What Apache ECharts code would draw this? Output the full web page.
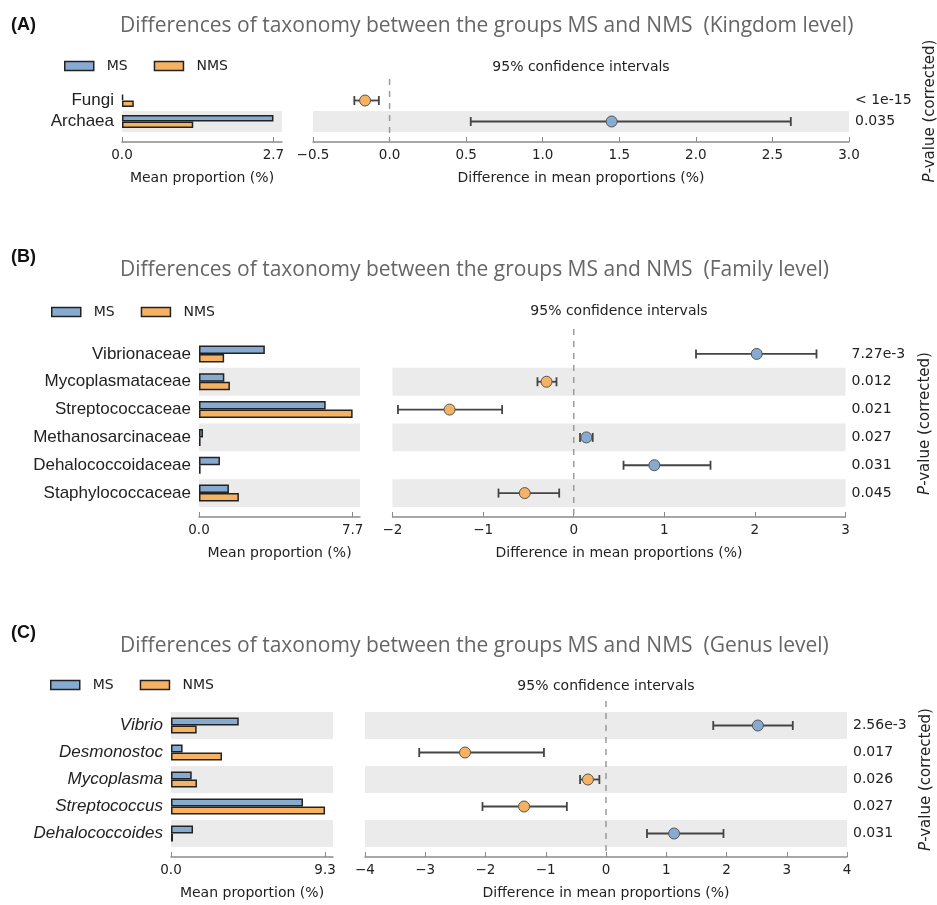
<!DOCTYPE html>
<html>
<head>
<meta charset="utf-8">
<script src="https://cdn.jsdelivr.net/npm/echarts@6/dist/echarts.min.js"></script>
<style>html,body{margin:0;padding:0;background:#fff}#chart{width:937px;height:905px}</style>
</head>
<body>
<div id="chart"></div>
<script>
// ---------- data ----------
const catsA = ['Fungi', 'Archaea'];
const msA = [0.02, 2.7];
const nmsA = [0.21, 1.27];
const diffA = [-0.16, 1.45];
const lowA = [-0.23, 0.53];
const highA = [-0.07, 2.62];
const pA = ['< 1e-15', '0.035'];
const barTicksA = [0.0, 2.7];

const catsB = ['Vibrionaceae', 'Mycoplasmataceae', 'Streptococcaceae', 'Methanosarcinaceae', 'Dehalococcoidaceae', 'Staphylococcaceae'];
const msB = [3.3, 1.27, 6.35, 0.2, 1.05, 1.5];
const nmsB = [1.26, 1.55, 7.7, 0.08, 0.08, 2.0];
const diffB = [2.02, -0.3, -1.37, 0.14, 0.89, -0.54];
const lowB = [1.35, -0.4, -1.94, 0.07, 0.55, -0.83];
const highB = [2.68, -0.19, -0.79, 0.21, 1.51, -0.16];
const pB = ['7.27e-3', '0.012', '0.021', '0.027', '0.031', '0.045'];
const barTicksB = [0.0, 7.7];

const catsC = ['Vibrio', 'Desmonostoc', 'Mycoplasma', 'Streptococcus', 'Dehalococcoides'];
const msC = [4.09, 0.7, 1.25, 7.97, 1.33];
const nmsC = [1.55, 3.08, 1.57, 9.3, 0.12];
const diffC = [2.52, -2.34, -0.3, -1.36, 1.13];
const lowC = [1.78, -3.1, -0.43, -2.05, 0.68];
const highC = [3.1, -1.03, -0.11, -0.65, 1.95];
const pC = ['2.56e-3', '0.017', '0.026', '0.027', '0.031'];
const barTicksC = [0.0, 9.3];

const groups = ['MS', 'NMS'];
const titles = [
  'Differences of taxonomy between the groups MS and NMS  (Kingdom level)',
  'Differences of taxonomy between the groups MS and NMS  (Family level)',
  'Differences of taxonomy between the groups MS and NMS  (Genus level)'
];
const panelLabels = ['(A)', '(B)', '(C)'];

// ---------- styles ----------
const BLUE = '#87aad0', ORANGE = '#f5b262', BAND = '#ebebeb', AX = '#8a8a8a';
const SMALL = 'DejaVu Sans', CAT = 'Liberation Sans';
const minus = s => s.replace('-', '\u2212');

const panels = [
  { cats: catsA, ms: msA, nms: nmsA, diff: diffA, low: lowA, high: highA, p: pA, ticks: barTicksA,
    barGrid: { left: 122, top: 90, width: 160, height: 42 }, barMax: 2.852, barW: 6.5,
    ciGrid: { left: 313, top: 90, width: 536, height: 42 }, ciMin: -0.5, ciMax: 3.0, ciInt: 0.5, ciDec: 1,
    bands: ['rgba(0,0,0,0)', BAND], italic: false,
    labelY: 25, legendTop: 59, legendLeft: 64, ciTitleY: 67 },
  { cats: catsB, ms: msB, nms: nmsB, diff: diffB, low: lowB, high: highB, p: pB, ticks: barTicksB,
    barGrid: { left: 199, top: 340, width: 161, height: 167 }, barMax: 8.07, barW: 8.5,
    ciGrid: { left: 392.5, top: 340, width: 453, height: 167 }, ciMin: -2, ciMax: 3, ciInt: 1, ciDec: 0,
    bands: ['rgba(0,0,0,0)', BAND], italic: false,
    labelY: 257, legendTop: 305, legendLeft: 51, ciTitleY: 311 },
  { cats: catsC, ms: msC, nms: nmsC, diff: diffC, low: lowC, high: highC, p: pC, ticks: barTicksC,
    barGrid: { left: 171, top: 712, width: 162, height: 135 }, barMax: 9.78, barW: 8,
    ciGrid: { left: 365, top: 712, width: 482, height: 135 }, ciMin: -4, ciMax: 4, ciInt: 1, ciDec: 0,
    bands: [BAND, 'rgba(0,0,0,0)'], italic: true,
    labelY: 633, legendTop: 678, legendLeft: 50, ciTitleY: 686 }
];
const titleY = [26, 270, 646];

const grid = [], xAxis = [], yAxis = [], series = [], legend = [], graphic = [];

function ciRender(params, api) {
  const y = api.value(2);
  const lo = api.coord([api.value(0), y]);
  const hi = api.coord([api.value(1), y]);
  const cap = 4.5;
  const st = { stroke: '#444', lineWidth: 1.8 };
  return { type: 'group', children: [
    { type: 'line', shape: { x1: lo[0], y1: lo[1], x2: hi[0], y2: hi[1] }, style: st },
    { type: 'line', shape: { x1: lo[0], y1: lo[1] - cap, x2: lo[0], y2: lo[1] + cap }, style: st },
    { type: 'line', shape: { x1: hi[0], y1: hi[1] - cap, x2: hi[0], y2: hi[1] + cap }, style: st }
  ]};
}
function zeroRender(params, api) {
  const cs = params.coordSys;
  const x = api.coord([api.value(0), 0])[0];
  return { type: 'line', shape: { x1: x, y1: cs.y - 11, x2: x, y2: cs.y + cs.height + 10 },
    style: { stroke: '#9a9a9a', lineWidth: 1.5, lineDash: [6, 6] } };
}

panels.forEach((P, k) => {
  const gb = 2 * k, gc = 2 * k + 1;
  grid.push(Object.assign({ outerBoundsMode: 'none', containLabel: false }, P.barGrid));
  grid.push(Object.assign({ outerBoundsMode: 'none', containLabel: false }, P.ciGrid));

  const nameStyle = { fontFamily: SMALL, fontSize: 14, color: '#222' };
  // bar chart x axis
  xAxis.push({
    gridIndex: gb, type: 'value', min: 0, max: P.barMax, position: 'bottom', offset: 10,
    axisLine: { show: true, lineStyle: { color: AX, width: 1.5 } },
    axisTick: { show: true, inside: true, length: 5, customValues: P.ticks, lineStyle: { color: AX, width: 1 } },
    axisLabel: { customValues: P.ticks, formatter: v => Number(v).toFixed(1), fontFamily: SMALL, fontSize: 13.5, color: '#222', margin: 6 },
    splitLine: { show: false },
    name: 'Mean proportion (%)', nameLocation: 'middle', nameGap: 29, nameTextStyle: nameStyle
  });
  // CI x axis
  xAxis.push({
    gridIndex: gc, type: 'value', min: P.ciMin, max: P.ciMax, interval: P.ciInt, position: 'bottom', offset: 10,
    axisLine: { show: true, lineStyle: { color: AX, width: 1.5 } },
    axisTick: { show: true, inside: true, length: 5, lineStyle: { color: AX, width: 1 } },
    axisLabel: { formatter: v => minus(Number(v).toFixed(P.ciDec)), fontFamily: SMALL, fontSize: 13.5, color: '#222', margin: 6,
      showMinLabel: true, showMaxLabel: true },
    splitLine: { show: false },
    name: 'Difference in mean proportions (%)', nameLocation: 'middle', nameGap: 29, nameTextStyle: nameStyle
  });
  // bar y axis (category names)
  yAxis.push({
    gridIndex: gb, type: 'category', inverse: true, data: P.cats,
    axisLine: { show: false }, axisTick: { show: false },
    axisLabel: { interval: 0, margin: 8, fontFamily: CAT, fontSize: 17, color: '#222', fontStyle: P.italic ? 'italic' : 'normal' },
    splitArea: { show: true, interval: 0, areaStyle: { color: P.bands } },
    splitLine: { show: false }
  });
  // CI y axis (p-values on the right)
  yAxis.push({
    gridIndex: gc, type: 'category', inverse: true, position: 'right', data: P.cats,
    axisLine: { show: false }, axisTick: { show: false },
    axisLabel: { interval: 0, margin: 6, fontFamily: SMALL, fontSize: 14, color: '#222', formatter: (v, i) => P.p[i] },
    splitArea: { show: true, interval: 0, areaStyle: { color: P.bands } },
    splitLine: { show: false },
    name: '{i|P}-value (corrected)', nameLocation: 'middle', nameRotate: 90, nameGap: 72,
    nameTextStyle: { fontFamily: SMALL, fontSize: 15, color: '#222', rich: { i: { fontFamily: SMALL, fontSize: 15, fontStyle: 'italic', color: '#222' } } }
  });

  const barStyle = c => ({ color: c, borderColor: '#222', borderWidth: 1.5 });
  series.push({ name: groups[0], type: 'bar', xAxisIndex: gb, yAxisIndex: gb, data: P.ms, barWidth: P.barW, barGap: '0%',
    itemStyle: barStyle(BLUE), z: 3 });
  series.push({ name: groups[1], type: 'bar', xAxisIndex: gb, yAxisIndex: gb, data: P.nms, barWidth: P.barW, barGap: '0%',
    itemStyle: barStyle(ORANGE), z: 3 });
  series.push({ type: 'custom', xAxisIndex: gc, yAxisIndex: gc, renderItem: zeroRender, data: [[0, 0]],
    encode: { x: 0, y: 1 }, z: 1, silent: true, clip: false });
  series.push({ type: 'custom', xAxisIndex: gc, yAxisIndex: gc, renderItem: ciRender,
    data: P.low.map((l, i) => [l, P.high[i], i]), encode: { x: [0, 1], y: 2 }, z: 2 });
  series.push({ type: 'scatter', xAxisIndex: gc, yAxisIndex: gc, symbol: 'circle', symbolSize: 11,
    data: P.diff.map((d, i) => ({ value: [d, i], itemStyle: { color: d > 0 ? BLUE : ORANGE } })),
    itemStyle: { borderColor: '#555', borderWidth: 1, opacity: 1 }, z: 4 });

  legend.push({
    data: groups, left: P.legendLeft, top: P.legendTop, orient: 'horizontal', itemWidth: 29, itemHeight: 9, itemGap: 26,
    icon: 'rect', selectedMode: false, padding: 0,
    itemStyle: { borderColor: '#222', borderWidth: 1.5 },
    textStyle: { fontFamily: SMALL, fontSize: 14, color: '#222', padding: [0, 0, 0, 8] }
  });

  graphic.push({ type: 'text', x: 11, y: P.labelY, style: { text: panelLabels[k], fontFamily: CAT, fontSize: 18, fontWeight: 'bold', fill: '#111', align: 'left', verticalAlign: 'middle' } });
  graphic.push({ type: 'text', x: 120, y: titleY[k], style: { text: titles[k], fontFamily: 'Open Sans', fontSize: 21, fill: '#666', align: 'left', verticalAlign: 'middle' } });
  graphic.push({ type: 'text', x: P.ciGrid.left + P.ciGrid.width / 2, y: P.ciTitleY, style: { text: '95% confidence intervals', fontFamily: SMALL, fontSize: 14, fill: '#222', align: 'center', verticalAlign: 'middle' } });
});

const chart = echarts.init(document.getElementById('chart'), null, { renderer: 'canvas' });
chart.setOption({ animation: false, backgroundColor: '#fff', grid, xAxis, yAxis, series, legend, graphic, tooltip: { show: false } });
</script>
</body>
</html>
